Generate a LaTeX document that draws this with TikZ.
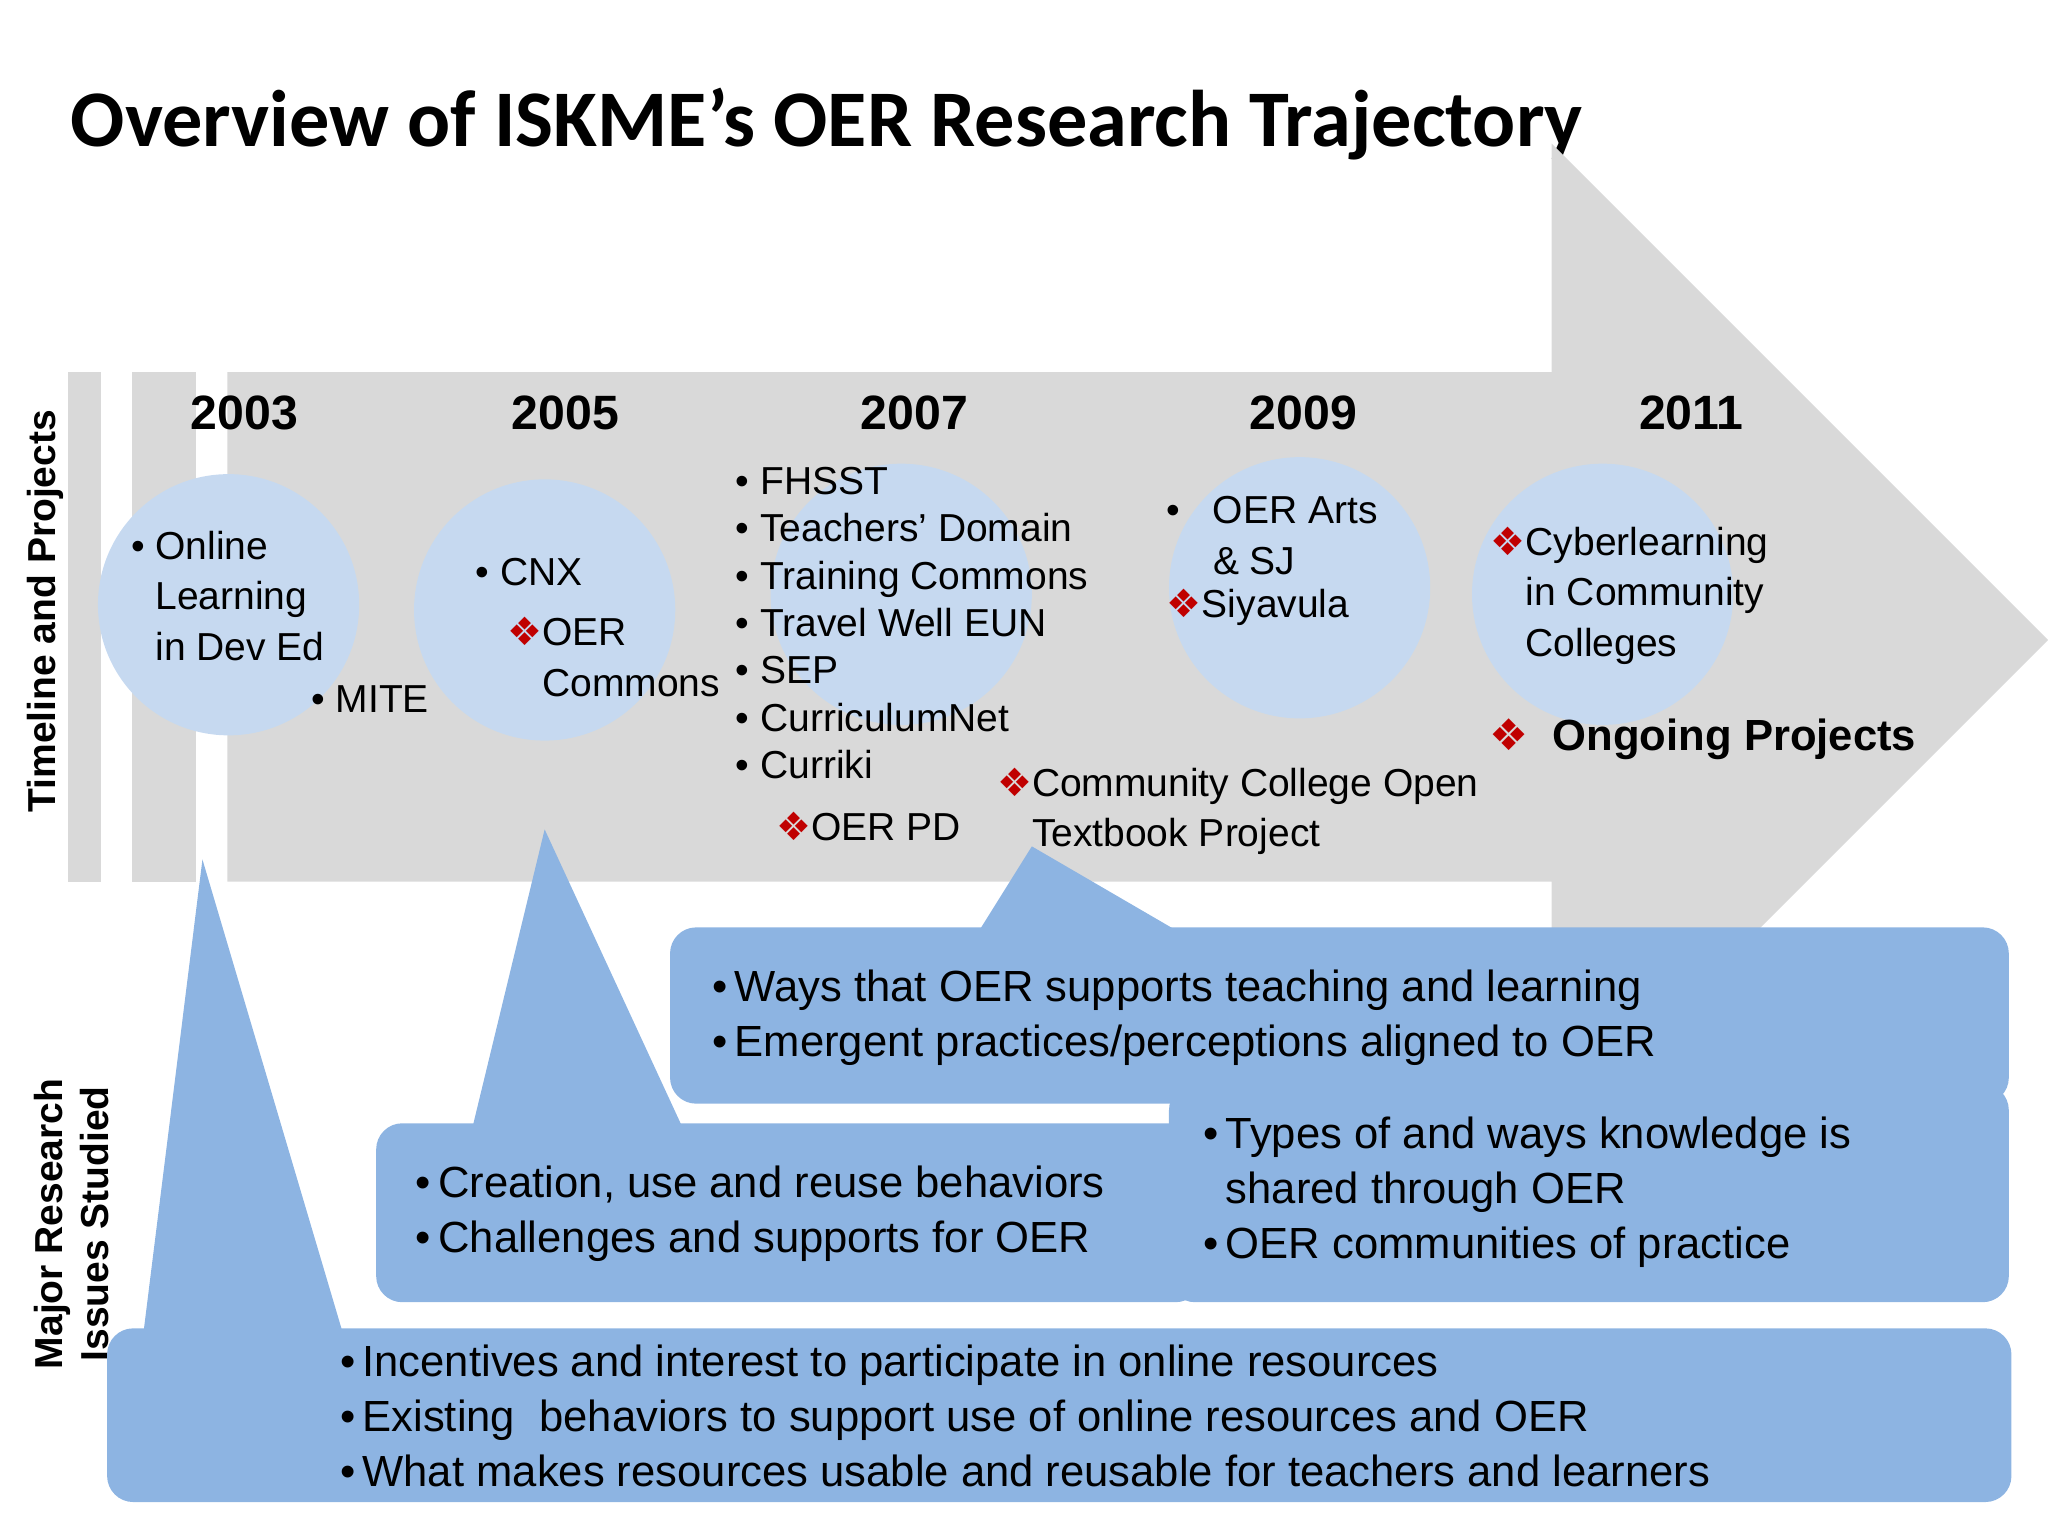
\documentclass[tikz,border=0pt]{standalone}
\usepackage{fontspec}
\setmainfont{Liberation Sans}
\newfontfamily\titlefont{Carlito}
\newfontfamily\symfont{DejaVu Sans}
\definecolor{arrowgray}{RGB}{217,217,217}
\definecolor{circblue}{RGB}{198,217,240}
\definecolor{boxblue}{RGB}{141,180,226}
\definecolor{dred}{RGB}{192,0,0}
\newcommand{\rd}{{\symfont\color{dred}❖}}
\begin{document}
\begin{tikzpicture}[x=0.02cm,y=-0.02cm,
  txt/.style={anchor=west,font=\fontsize{17}{22}\selectfont,align=left,inner sep=0},
  yr/.style={font=\bfseries\fontsize{21}{25}\selectfont},
  circ/.style={circle,fill=circblue,minimum size=200*0.02cm,inner sep=0},
  blu/.style={fill=boxblue,rounded corners=0.4cm}]
\useasboundingbox (0,0) rectangle (1568,1176);
\node[anchor=west,font=\titlefont\bfseries\fontsize{35}{40}\selectfont] (title) at (48,95) {Overview of ISKME’s OER Research Trajectory};
% arrow
\fill[arrowgray] (52,285) rectangle (77,675);
\fill[arrowgray] (101,285) rectangle (150,675);
\fill[arrowgray] (174,285) -- (1188,285) -- (1188,110) -- (1568,490) -- (1188,870) -- (1188,675) -- (174,675) -- cycle;
% circles
\node[circ] (c1) at (175,463) {};
\node[circ] (c2) at (417,467) {};
\node[circ] (c3) at (690,455) {};
\node[circ] (c4) at (995,450) {};
\node[circ] (c5) at (1227,455) {};
% years
\node[yr] (y1) at (187,316) {2003};
\node[yr] (y2) at (433,316) {2005};
\node[yr] (y3) at (700,316) {2007};
\node[yr] (y4) at (998,316) {2009};
\node[yr] (y5) at (1295,316) {2011};
% texts
\node[txt] (t1) at (100,456) {\textbullet\ Online\\\hphantom{\textbullet\ }Learning\\\hphantom{\textbullet\ }in Dev Ed};
\node[txt] (t2) at (238,535) {\textbullet\ MITE};
\node[txt] (t3) at (364,438) {\textbullet\ CNX};
\node[txt] (t4) at (388,503) {\rd OER\\\hphantom{\rd}Commons};
\node[txt,font=\fontsize{17}{20.6}\selectfont] (t5) at (563,477) {\textbullet\ FHSST\\\textbullet\ Teachers’ Domain\\\textbullet\ Training Commons\\\textbullet\ Travel Well EUN\\\textbullet\ SEP\\\textbullet\ CurriculumNet\\\textbullet\ Curriki};
\node[txt] (t6) at (594,633) {\rd OER PD};
\node[txt] (t7) at (763,621) {\rd Community College Open\\\hphantom{\rd}Textbook Project};
\node[txt] (t8) at (893,410) {\textbullet\ \ \ OER Arts\\\hphantom{\textbullet\ \ \ }\& SJ};
\node[txt] (t9) at (893,465) {\rd Siyavula};
\node[txt] (t10) at (1141,456) {\rd Cyberlearning\\\hphantom{\rd}in Community\\\hphantom{\rd}Colleges};
\node[txt,font=\bfseries\fontsize{19}{22}\selectfont] (t11) at (1140,566) {{\color{dred}\symfont❖}\ \ Ongoing Projects};
% side labels
\node[rotate=90,font=\bfseries\fontsize{17}{20}\selectfont] (s1) at (35,468) {Timeline and Projects};
\node[rotate=90,font=\bfseries\fontsize{17}{20}\selectfont,align=center] (s2) at (55,937) {Major Research\\Issues Studied};
% callouts
\fill[boxblue] (750,712) -- (790,648) -- (900,712) -- cycle;
\fill[blu] (513,710) rectangle (1538,845);
\fill[boxblue] (362,862) -- (417,635) -- (522,862) -- cycle;
\fill[blu] (288,860) rectangle (920,997);
\fill[blu] (895,830) rectangle (1538,997);
\fill[boxblue] (110,1019) -- (155,658) -- (262,1019) -- cycle;
\fill[blu] (82,1017) rectangle (1540,1150);
\node[txt,font=\fontsize{19}{24}\selectfont] (b1) at (545,779) {\textbullet\,Ways that OER supports teaching and learning\\\textbullet\,Emergent practices/perceptions aligned to OER};
\node[txt,font=\fontsize{19}{24}\selectfont] (b2) at (318,929) {\textbullet\,Creation, use and reuse behaviors\\\textbullet\,Challenges and supports for OER};
\node[txt,font=\fontsize{19}{24}\selectfont] (b3) at (921,913) {\textbullet\,Types of and ways knowledge is\\\hphantom{\textbullet\,}shared through OER\\\textbullet\,OER communities of practice};
\node[txt,font=\fontsize{19}{24}\selectfont] (b4) at (260,1084) {\textbullet\,Incentives and interest to participate in online resources\\\textbullet\,Existing\ \ behaviors to support use of online resources and OER\\\textbullet\,What makes resources usable and reusable for teachers and learners};
\end{tikzpicture}
\end{document}
